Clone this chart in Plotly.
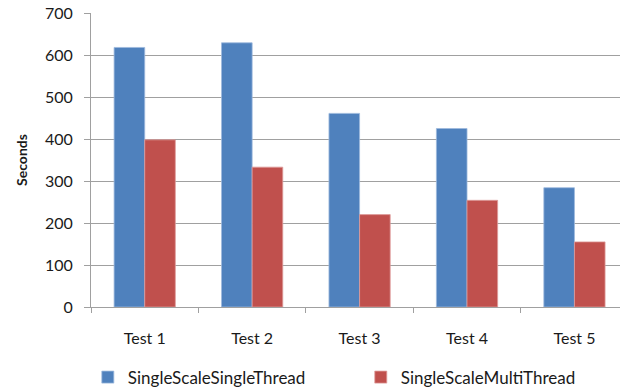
import plotly.graph_objects as go

categories = ["Test 1", "Test 2", "Test 3", "Test 4", "Test 5"]
single_thread = [618, 629, 461, 425, 284]
multi_thread = [398, 333, 220, 254, 155]
series_names = ["SingleScaleSingleThread", "SingleScaleMultiThread"]
y_ticks = [0, 100, 200, 300, 400, 500, 600, 700]

BLUE = "#4F81BD"
BLUE_EDGE = "#9DB9DD"
RED = "#C0504D"
RED_EDGE = "#DE9C9A"
GRID = "#A0A0A0"
FONT = "Lato, 'Open Sans', sans-serif"

fig = go.Figure()
fig.add_trace(go.Bar(x=categories, y=single_thread, name=series_names[0],
                     marker=dict(color=BLUE, line=dict(width=0.8, color=BLUE_EDGE)),
                     legend="legend"))
fig.add_trace(go.Bar(x=categories, y=multi_thread, name=series_names[1],
                     marker=dict(color=RED, line=dict(width=0.8, color=RED_EDGE)),
                     legend="legend2"))

legend_common = dict(orientation="h", y=-0.24, yanchor="middle", xanchor="left",
                     font=dict(size=17), itemwidth=30, bgcolor="rgba(0,0,0,0)")

fig.update_layout(
    width=620, height=390,
    margin=dict(l=91, r=0, t=13, b=83, pad=0, autoexpand=False),
    paper_bgcolor="white", plot_bgcolor="white",
    barmode="group", bargap=0.43, bargroupgap=0,
    font=dict(family=FONT, size=16, color="#1A1A1A"),
    showlegend=True,
    legend=dict(x=-0.006, **legend_common),
    legend2=dict(x=0.51, **legend_common),
)

fig.update_xaxes(
    type="category", range=[-0.5, 4.424], tickson="boundaries",
    showline=True, linecolor=GRID, linewidth=1,
    ticks="outside", ticklen=5, tickcolor=GRID, tickwidth=1,
    showgrid=False, ticklabelstandoff=17, tickfont=dict(size=16),
    tickangle=0, automargin=False,
)
fig.update_yaxes(
    range=[0, 700], tickvals=y_ticks, ticktext=[str(v) for v in y_ticks],
    showline=True, linecolor=GRID, linewidth=1,
    ticks="outside", ticklen=6, tickcolor=GRID, tickwidth=1,
    showgrid=True, gridcolor=GRID, gridwidth=1, zeroline=False,
    tickfont=dict(size=16), ticklabelstandoff=8, automargin=False,
    title=dict(text="<b>Seconds</b>", font=dict(size=14), standoff=14),
)

fig.write_html("out.html")
